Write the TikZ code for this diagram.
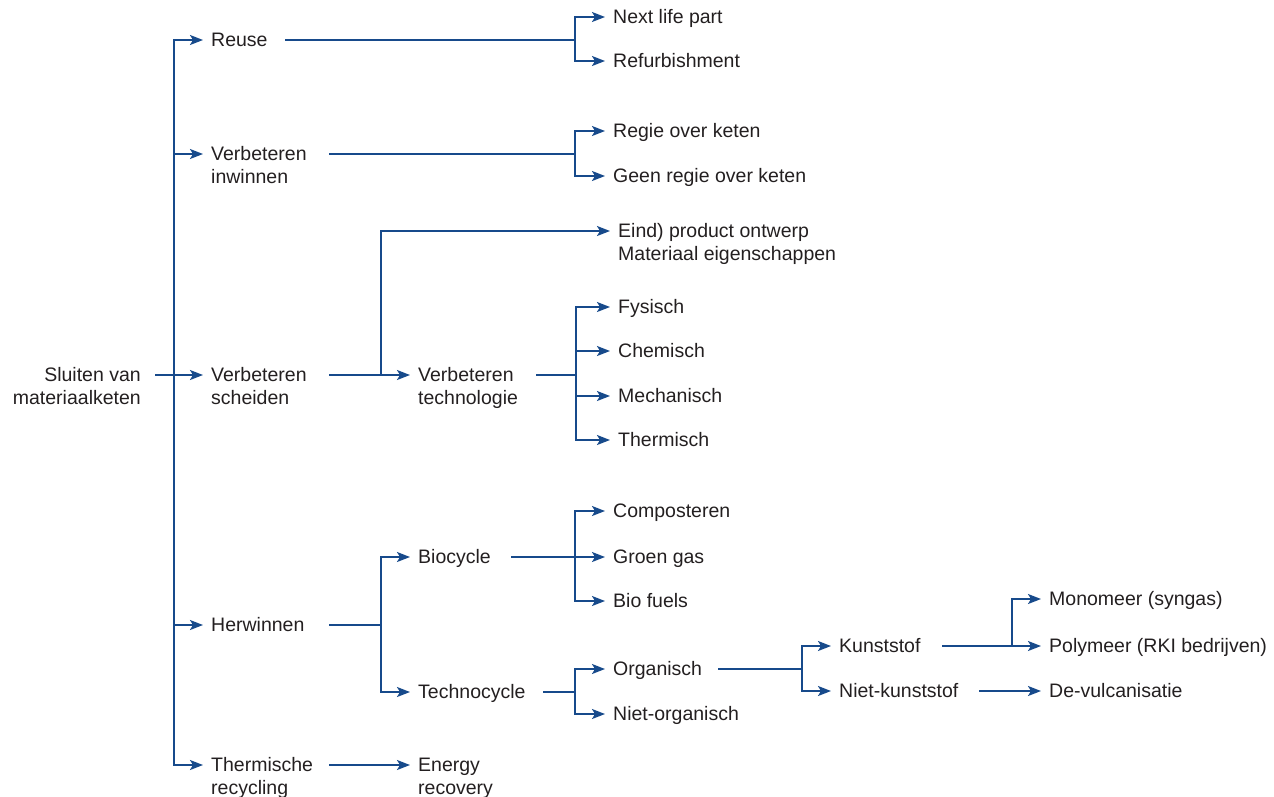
\documentclass[tikz,border=0pt]{standalone}
\usepackage{fontspec}
\setmainfont{Liberation Sans}
\usetikzlibrary{arrows.meta}

\definecolor{lineblue}{RGB}{23,74,139}
\definecolor{ink}{RGB}{35,31,32}

% left- and right-aligned multi-line labels whose baseline is the first line
\newcommand\stackl[1]{\vtop{\halign{##\hfil\cr#1\crcr}}}
\newcommand\stackr[1]{\vtop{\halign{\hfil##\cr#1\crcr}}}

\tikzset{
  link/.style={draw=lineblue, line width=1.8pt},
  arr/.style={link, -{Stealth[length=13pt,width=10pt,inset=3pt]}, shorten >=8pt},
  lbl/.style={anchor=base west, inner sep=0pt, text=ink, yshift=-1.5pt,
              font=\fontsize{19.5}{22.5}\selectfont},
  rlbl/.style={lbl, anchor=base east},
}

\begin{document}
\begin{tikzpicture}[x=1pt, y=-1pt]
\useasboundingbox (0,0) rectangle (1274,796);

% ---- labels (baseline 6.5pt below the line they are reached at) ----
\node[rlbl] (root) at (141,380) {\stackr{Sluiten van\cr materiaalketen}};

\node[lbl] (reuse)     at (211,45)  {Reuse};
\node[lbl] (inwinnen)  at (211,159) {\stackl{Verbeteren\cr inwinnen}};
\node[lbl] (scheiden)  at (211,380) {\stackl{Verbeteren\cr scheiden}};
\node[lbl] (herwinnen) at (211,630) {Herwinnen};
\node[lbl] (thermrec)  at (211,770) {\stackl{Thermische\cr recycling}};

\node[lbl] (nextlife)  at (613,22)  {Next life part};
\node[lbl] (refurb)    at (613,66)  {Refurbishment};
\node[lbl] (regie)     at (613,136) {Regie over keten};
\node[lbl] (geenregie) at (613,181) {Geen regie over keten};

\node[lbl] (eind)      at (618,236) {\stackl{Eind) product ontwerp\cr Materiaal eigenschappen}};
\node[lbl] (techno)    at (418,380) {\stackl{Verbeteren\cr technologie}};
\node[lbl] (fysisch)   at (618,312) {Fysisch};
\node[lbl] (chemisch)  at (618,356) {Chemisch};
\node[lbl] (mechanisch) at (618,401) {Mechanisch};
\node[lbl] (thermisch) at (618,445) {Thermisch};

\node[lbl] (biocycle)  at (418,562) {Biocycle};
\node[lbl] (technocycle) at (418,697) {Technocycle};
\node[lbl] (composteren) at (613,516) {Composteren};
\node[lbl] (groengas)  at (613,562) {Groen gas};
\node[lbl] (biofuels)  at (613,606) {Bio fuels};
\node[lbl] (organisch) at (613,674) {Organisch};
\node[lbl] (nietorg)   at (613,719) {Niet-organisch};

\node[lbl] (kunststof) at (839,651) {Kunststof};
\node[lbl] (nietkunst) at (839,696) {Niet-kunststof};
\node[lbl] (monomeer)  at (1049,604) {Monomeer (syngas)};
\node[lbl] (polymeer)  at (1049,651) {Polymeer (RKI bedrijven)};
\node[lbl] (devulc)    at (1049,696) {De-vulcanisatie};

\node[lbl] (energy)    at (418,770) {\stackl{Energy\cr recovery}};

% ---- line starts and junctions ----
\coordinate (root-out)   at (155,375);
\coordinate (trunk)      at (174,375);
\coordinate (reuse-out)  at (285,40);
\coordinate (reuse-j)    at (575,40);
\coordinate (inw-out)    at (329,154);
\coordinate (inw-j)      at (575,154);
\coordinate (sch-out)    at (329,375);
\coordinate (sch-j)      at (381,375);
\coordinate (tech-out)   at (536,375);
\coordinate (tech-j)     at (576,375);
\coordinate (her-out)    at (329,625);
\coordinate (her-j)      at (381,625);
\coordinate (bio-out)    at (511,557);
\coordinate (bio-j)      at (575,557);
\coordinate (tc-out)     at (543,692);
\coordinate (tc-j)       at (575,692);
\coordinate (org-out)    at (718,669);
\coordinate (org-j)      at (802,669);
\coordinate (kun-out)    at (942,646);
\coordinate (kun-j)      at (1012,646);
\coordinate (nk-out)     at (979,691);
\coordinate (thr-out)    at (329,765);

% ---- connectors ----
\draw[arr] (root-out) -- ([yshift=6.5pt]scheiden.base west);
\foreach \n in {reuse,inwinnen,herwinnen,thermrec}
  \draw[arr] (trunk) |- ([yshift=6.5pt]\n.base west);

\draw[link] (reuse-out) -- (reuse-j);
\foreach \n in {nextlife,refurb}
  \draw[arr] (reuse-j) |- ([yshift=6.5pt]\n.base west);

\draw[link] (inw-out) -- (inw-j);
\foreach \n in {regie,geenregie}
  \draw[arr] (inw-j) |- ([yshift=6.5pt]\n.base west);

\draw[arr] (sch-out) -- ([yshift=6.5pt]techno.base west);
\draw[arr] (sch-j) |- ([yshift=6.5pt]eind.base west);

\draw[link] (tech-out) -- (tech-j);
\foreach \n in {fysisch,chemisch,mechanisch,thermisch}
  \draw[arr] (tech-j) |- ([yshift=6.5pt]\n.base west);

\draw[link] (her-out) -- (her-j);
\foreach \n in {biocycle,technocycle}
  \draw[arr] (her-j) |- ([yshift=6.5pt]\n.base west);

\draw[link] (bio-out) -- (bio-j);
\foreach \n in {composteren,groengas,biofuels}
  \draw[arr] (bio-j) |- ([yshift=6.5pt]\n.base west);

\draw[link] (tc-out) -- (tc-j);
\foreach \n in {organisch,nietorg}
  \draw[arr] (tc-j) |- ([yshift=6.5pt]\n.base west);

\draw[link] (org-out) -- (org-j);
\foreach \n in {kunststof,nietkunst}
  \draw[arr] (org-j) |- ([yshift=6.5pt]\n.base west);

\draw[arr] (kun-out) -- ([yshift=6.5pt]polymeer.base west);
\draw[arr] (kun-j) |- ([yshift=6.5pt]monomeer.base west);

\draw[arr] (nk-out) -- ([yshift=6.5pt]devulc.base west);
\draw[arr] (thr-out) -- ([yshift=6.5pt]energy.base west);
\end{tikzpicture}
\end{document}
